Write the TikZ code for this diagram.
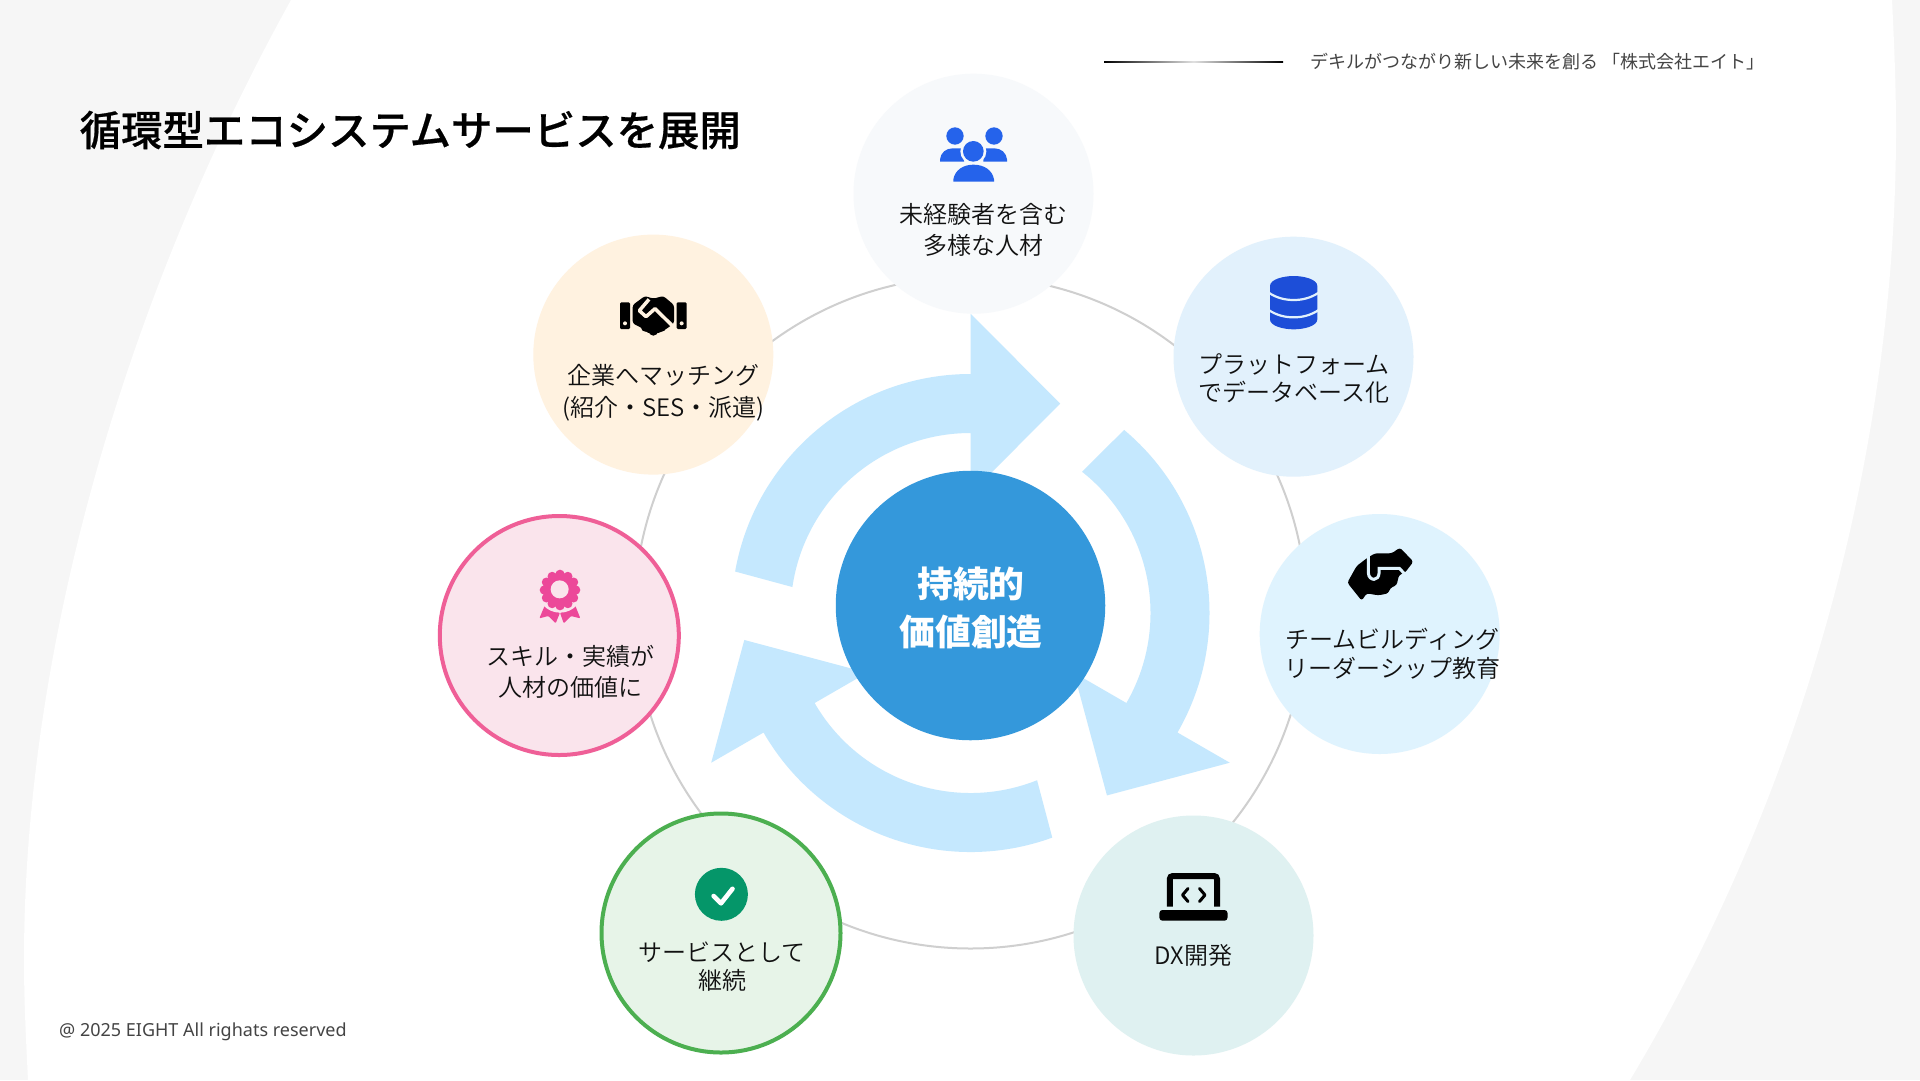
\documentclass[tikz,border=0pt]{standalone}
\usepackage{fontspec}
\setmainfont{Noto Sans}
\newfontfamily\cjk{Noto Sans CJK JP}
\newfontfamily\cjkl{Noto Sans CJK JP DemiLight}
\newfontfamily\cjkm[FakeBold=0.5]{Noto Sans CJK JP Medium}
\definecolor{bggray}{HTML}{F6F6F6}
\definecolor{arrowblue}{HTML}{C5E8FE}
\definecolor{hubblue}{HTML}{3498DB}
\definecolor{ringgray}{HTML}{CFCFCF}
\definecolor{usersbg}{HTML}{F7F9FB}
\definecolor{platbg}{HTML}{E2F1FC}
\definecolor{teambg}{HTML}{DFF3FE}
\definecolor{dxbg}{HTML}{DFF1F1}
\definecolor{svcbg}{HTML}{E7F4E8}
\definecolor{svcline}{HTML}{4CAF50}
\definecolor{skillbg}{HTML}{FAE4EC}
\definecolor{skillline}{HTML}{EF5F97}
\definecolor{compbg}{HTML}{FFF2E0}
\definecolor{txt}{HTML}{111111}
\definecolor{subtxt}{HTML}{444444}
\definecolor{userblue}{HTML}{2563EB}
\definecolor{dbblue}{HTML}{1D4ED8}
\definecolor{awardpink}{HTML}{EC4899}
\definecolor{checkgreen}{HTML}{059669}
\tikzset{
  blob/.style={circle,inner sep=0pt,minimum size=240pt,fill=#1},
  ringed/.style 2 args={circle,inner sep=0pt,minimum size=239pt,fill=#1,draw=#2,line width=4pt},
  lbl/.style={align=center,inner sep=0pt,text=txt,font={\cjkl\fontsize{24}{#1}\selectfont}},
  zoomed/.style={shift={#1},x=0.33333pt,y=-0.33333pt},
}
\newcommand{\circarrow}[1]{%
  \begin{scope}[shift={(970.5,613)},x=1pt,y=1pt,rotate=#1]
    \fill[arrowblue] (170:239) arc[start angle=170,end angle=90,radius=239]
      -- (90:299.4) -- (66.8:227.8) -- (90:119.4) -- (90:180)
      arc[start angle=90,end angle=171.7,radius=180] -- cycle;
  \end{scope}}
\begin{document}
\begin{tikzpicture}[x=1pt,y=-1pt]
\useasboundingbox (0,0) rectangle (1920,1080);
% background
\fill[bggray] (0,0) rectangle (1920,1080);
\fill[white] (291,0) .. controls (130,290) and (24,640) .. (24,960)
  .. controls (24,1000) and (26,1040) .. (28,1080)
  -- (1630,1080) .. controls (1810,780) and (1896,440) .. (1896,130)
  .. controls (1896,85) and (1894,40) .. (1892,0) -- cycle;
% ring
\node[circle,draw=ringgray,line width=2pt,inner sep=0pt,minimum size=672pt] (ring) at (970.5,612.5) {};
% arrows
\circarrow{0}
\circarrow{-120}
\circarrow{-240}
% hub
\node[circle,fill=hubblue,inner sep=0pt,minimum size=269.5pt] (hub) at (970.5,605.5) {};
\node[align=center,inner sep=0pt,text=white,font={\cjk\bfseries\fontsize{35.8}{48}\selectfont}] (hubtext) at (971,608) {持続的\\価値創造};
% satellites
\node[blob=usersbg] (users) at (973.5,193.7) {};
\node[blob=platbg] (plat) at (1293.5,356.7) {};
\node[blob=teambg] (team) at (1379.7,634) {};
\node[blob=dxbg] (dx) at (1193.5,935.5) {};
\node[ringed={svcbg}{svcline}] (svc) at (721,933) {};
\node[ringed={skillbg}{skillline}] (skill) at (559.3,635.5) {};
\node[blob=compbg] (comp) at (653.3,354.6) {};
% labels
\node[lbl=31] (usersL) at (983.5,229.5) {未経験者を含む\\多様な人材};
\node[lbl=28] (platL) at (1293.8,378.3) {プラットフォーム\\でデータベース化};
\node[lbl=29.5] (teamL) at (1392.3,654) {チームビルディング\\リーダーシップ教育};
\node[lbl=29] (dxL) at (1193.5,955.5) {DX開発};
\node[lbl=28] (svcL) at (722,967) {サービスとして\\継続};
\node[lbl=31] (skillL) at (570.5,671.5) {スキル・実績が\\人材の価値に};
\node[lbl=31.5] (compL) at (663.5,392.5) {企業へマッチング\\(紹介・SES・派遣)};
% title, header, footer
\node[anchor=west,inner sep=0pt,font={\cjkm\fontsize{41.4}{48}\selectfont},text=black] (title) at (79.5,130) {循環型エコシステムサービスを展開};
\shade[left color=black,right color=black,middle color=black!12] (1104,61) rectangle (1283,62.2);
\node[anchor=west,inner sep=0pt,font={\cjk\fontsize{18}{22}\selectfont},text=subtxt] (head) at (1310,62) {デキルがつながり新しい未来を創る 「株式会社エイト」};
\node[anchor=west,inner sep=0pt,font={\fontsize{18}{22}\selectfont},text=subtxt] (foot) at (59,1032) {@ 2025 EIGHT All righats reserved};
% icon: users
\begin{scope}[zoomed={(840,60)}]
  \fill[userblue] (345,228) circle[radius=26] (462,228) circle[radius=26];
  \fill[userblue] (300,305) -- (300,298) .. controls (302,278) and (318,265) .. (338,265) -- (372,265) -- (372,305) -- cycle;
  \fill[userblue] (501,305) -- (501,298) .. controls (499,278) and (483,265) .. (463,265) -- (430,265) -- (430,305) -- cycle;
  \fill[usersbg] (400,274) circle[radius=39];
  \fill[userblue] (400,274) circle[radius=31];
  \fill[userblue] (340,365) -- (340,358) .. controls (345,330) and (370,314) .. (400,314) .. controls (432,314) and (457,330) .. (462,358) -- (462,365) -- cycle;
\end{scope}
% icon: database
\begin{scope}[zoomed={(1250,260)}]
  \fill[dbblue] (60,78) .. controls (60,58) and (100,48) .. (131,48) .. controls (162,48) and (202,58) .. (202,78) -- (202,178) .. controls (202,198) and (162,208) .. (131,208) .. controls (100,208) and (60,198) .. (60,178) -- cycle;
  \draw[platbg,line width=2.2pt] (56,98) .. controls (80,114) and (105,120) .. (131,120) .. controls (157,120) and (182,114) .. (206,98);
  \draw[platbg,line width=2.2pt] (56,150) .. controls (80,166) and (105,172) .. (131,172) .. controls (157,172) and (182,166) .. (206,150);
\end{scope}
% icon: team clasp
\begin{scope}[zoomed={(1250,260)}]
  \fill[black,rounded corners=2.5pt] (292,968) -- (320,918) -- (350,895) -- (375,880) -- (425,880) -- (450,863) -- (490,905) -- (465,938) -- (447,945) -- (440,975) -- (420,985) -- (415,1000) -- (385,1006) -- (350,1000) -- (335,1022) -- cycle;
  \draw[teambg,line width=3pt] (355,888) -- (355,938) .. controls (355,952) and (365,958) .. (372,958) .. controls (380,958) and (387,950) .. (387,940) -- (387,925) -- (448,925) -- (470,948);
\end{scope}
% icon: company handshake
\begin{scope}[zoomed={(520,270)}]
  \fill[black,rounded corners=1.2pt] (300,97) rectangle (330,177);
  \fill[black,rounded corners=1.2pt] (470,97) rectangle (500,177);
  \fill[compbg] (315,160) circle[radius=6] (485,160) circle[radius=6];
  \fill[black,rounded corners=2.5pt] (338,105) -- (375,78) -- (400,86) -- (430,78) -- (462,105) -- (462,160) -- (440,176) -- (415,190) -- (385,190) -- (362,172) -- (338,160) -- cycle;
  \fill[black] (376,172) circle[radius=13] (400,183) circle[radius=14] (425,172) circle[radius=13];
  \draw[compbg,line width=3.5pt,line join=round] (387,88) -- (358,122) -- (378,140) -- (405,116) -- (464,174);
\end{scope}
% icon: award
\begin{scope}[zoomed={(520,270)}]
  \fill[awardpink,rounded corners=1pt] (75,1005) -- (58,1045) -- (85,1038) -- (107,1060) -- (120,1028) -- cycle;
  \fill[awardpink,rounded corners=1pt] (165,1005) -- (181,1045) -- (153,1038) -- (131,1060) -- (120,1028) -- cycle;
  \fill[skillbg] (120,960) circle[radius=68];
  \fill[awardpink] (120,960) circle[radius=50];
  \foreach \a in {0,30,...,330} {\fill[awardpink] (120,960) ++(\a:47) circle[radius=14];}
  \fill[skillbg] (119,958) circle[radius=27];
\end{scope}
% icon: check
\fill[checkgreen] (721.4,894.3) circle[radius=26.5];
\draw[white,line width=4.6pt,line cap=round,line join=round] (713.6,896) -- (721,903.3) -- (732.5,888.8);
% icon: laptop
\draw[black,line width=6pt,rounded corners=3pt] (1169.8,906.7) -- (1169.8,876) -- (1217,876) -- (1217,906.7);
\fill[black,rounded corners=3pt] (1159.4,910) -- (1159.4,920.7) -- (1227.5,920.7) -- (1227.5,910) -- cycle;
\draw[black,line width=3pt,line cap=round,line join=round] (1188,888.5) -- (1182.5,895) -- (1188,901.5);
\draw[black,line width=3pt,line cap=round,line join=round] (1199.5,888.5) -- (1205,895) -- (1199.5,901.5);
\end{tikzpicture}
\end{document}
